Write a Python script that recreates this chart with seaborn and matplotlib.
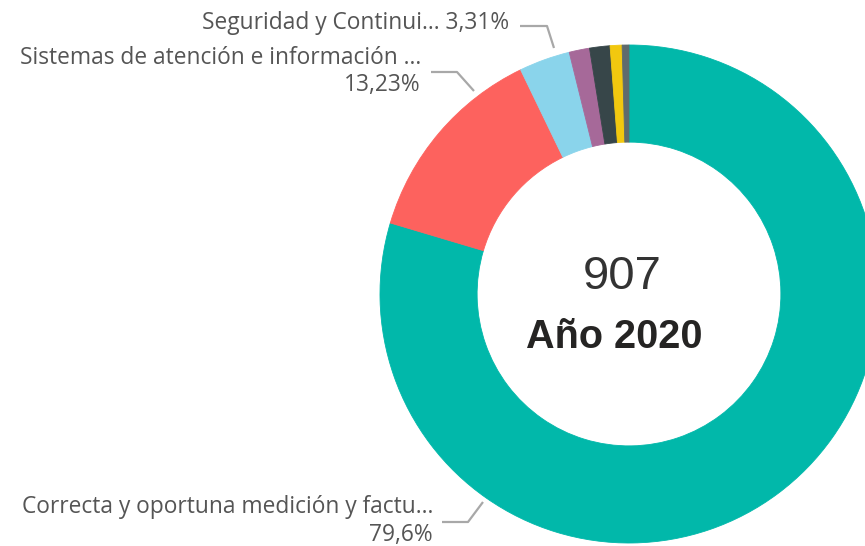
import matplotlib
matplotlib.use("Agg")
import matplotlib.pyplot as plt
import seaborn as sns

# ---- data ----
categories = [
    "Correcta y oportuna medición y facturación",
    "Sistemas de atención e información",
    "Seguridad y Continuidad",
    "Categoría 4",
    "Categoría 5",
    "Categoría 6",
    "Categoría 7",
]
counts = [722, 120, 30, 12, 12, 7, 4]
colors_hex = ["#01B8AA", "#FD625E", "#8AD4EB", "#A66999", "#374649", "#F2C80F", "#5F6B6D"]
label_names = [
    "Correcta y oportuna medición y factu...",
    "Sistemas de atención e información ...",
    "Seguridad y Continui...",
]
label_pcts = ["79,6%", "13,23%", "3,31%"]
total_text = "907"
year_text = "Año 2020"

sns.set_theme(style="white")
plt.rcParams["font.family"] = ["Liberation Sans", "DejaVu Sans"]

W, H = 865, 546
fig = plt.figure(figsize=(W / 100, H / 100), dpi=100)
ax = fig.add_axes([0, 0, 1, 1])

palette = sns.color_palette(colors_hex)
cx, cy, R = 629, 294, 249
ring = 0.39
wedges, _ = ax.pie(counts, colors=palette, startangle=-90, counterclock=True,
                   center=(cx, cy), radius=R,
                   wedgeprops=dict(width=R * ring, linewidth=0.6))
for w in wedges:
    w.set_edgecolor(w.get_facecolor())

ax.set_xlim(0, W)
ax.set_ylim(H, 0)
ax.set_aspect("auto")
ax.axis("off")

txt_color = "#555555"
line_color = "#A8A8A8"
lab_font = ["Open Sans", "DejaVu Sans"]
fs = 16.4

# leader lines (pixel-space annotation layout)
leaders = [
    [(442, 522), (468, 522), (483, 502)],
    [(431, 72), (457, 72), (474, 91)],
    [(520, 26), (547, 26), (554, 48)],
]
for pts in leaders:
    xs, ys = zip(*pts)
    ax.plot(xs, ys, color=line_color, lw=1.6, solid_capstyle="butt")

# labels
kw = dict(ha="right", va="center", fontsize=fs, color=txt_color, family=lab_font)
ax.text(433, 507, label_names[0], **kw)
ax.text(433, 535, label_pcts[0], **kw)
ax.text(421, 58, label_names[1], **kw)
ax.text(421, 85, label_pcts[1], **kw)
ax.text(509, 23, label_names[2] + " " + label_pcts[2], **kw)

# center texts
ax.text(622, 277, total_text, ha="center", va="center", fontsize=34, color="#333333")
ax.text(614, 337, year_text, ha="center", va="center", fontsize=28.5,
        fontweight="bold", color="#252423")

fig.savefig("out.png", dpi=100)
